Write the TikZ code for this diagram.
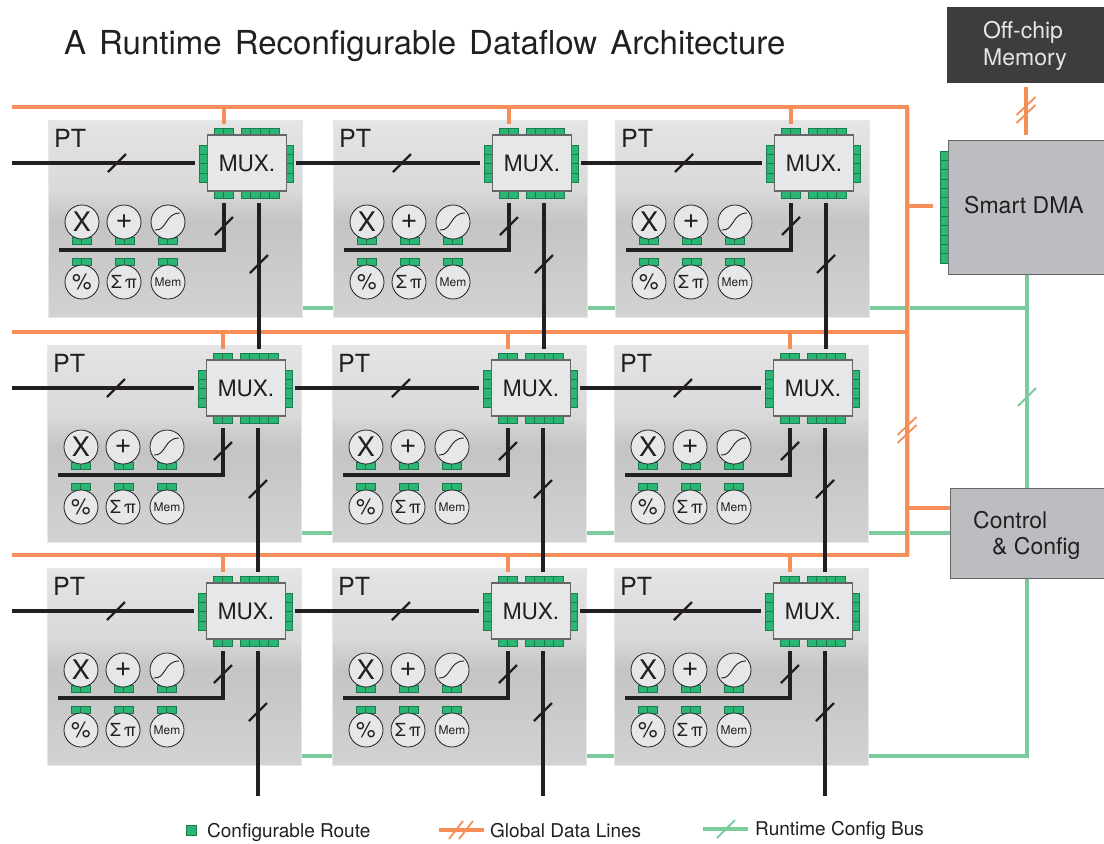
\documentclass[tikz,border=0pt]{standalone}
\usepackage{fontspec}
\setmainfont{TeX Gyre Heros}
\newfontfamily\titlefont[WordSpace=1.42]{TeX Gyre Heros}
\definecolor{ink}{HTML}{231F20}
\definecolor{orangeline}{HTML}{F58F57}
\definecolor{greenline}{HTML}{7CCB9D}
\definecolor{portfill}{HTML}{2BB673}
\definecolor{portedge}{HTML}{1A7A50}
\definecolor{lightfill}{HTML}{E6E7E8}
\definecolor{boxgray}{HTML}{BCBDC0}
\pgfdeclareverticalshading{panelshade}{100bp}{color(0bp)=(white!82!black);color(25bp)=(white!82.5!black);color(49bp)=(white!77!black);color(55.5bp)=(white!83!black);color(56.5bp)=(white!85!black);color(75bp)=(white!89.5!black);color(100bp)=(white!89.5!black)}
\newcommand\fs[1]{\fontsize{#1}{#1}\selectfont}
\tikzset{
  panelbox/.style={shading=panelshade,draw=lightfill,line width=1pt,minimum width=254pt,minimum height=197pt,inner sep=0pt,anchor=north west},
  muxbox/.style={draw=black!60,fill=lightfill,line width=1.3pt,minimum width=79pt,minimum height=56pt,inner sep=0pt,text=ink,font=\fs{22.6}},
  unit/.style={circle,draw=ink,fill=lightfill,line width=.8pt,minimum size=34pt,inner sep=0pt,text=ink},
  cell/.style={draw=portedge,fill=portfill,line width=.5pt},
  bus/.style={draw=ink,line width=3.3pt},
  tickmark/.style={draw=ink,line width=2.2pt},
  gline/.style={draw=orangeline,line width=3.2pt},
  gedge/.style={draw=orangeline!40,line width=1.2pt},
  gtick/.style={draw=orangeline,line width=1.8pt},
  cline/.style={draw=greenline,line width=3.2pt},
  ctick/.style={draw=greenline,line width=1.8pt},
  ptlabel/.style={font=\fs{25},text=ink,inner sep=0pt},
  legendtext/.style={font=\fs{19},text=ink,inner sep=0pt,anchor=west},
  sysbox/.style={fill=boxgray,draw=black!60,line width=1.2pt,inner sep=0pt,anchor=north west,text=ink}
}
% horizontal and vertical port strips
\newcommand\hports[3]{\foreach \i in {1,...,#3}{\path[cell] ({#1+(\i-1)*9.5},#2) rectangle ++(9.5,7.5);}}
\newcommand\vports[4][9.25]{\foreach \i in {1,...,#4}{\path[cell] (#2,{#3+(\i-1)*#1}) rectangle ++(8,#1);}}
\newcommand\ptpanel[3]{%
\begin{scope}[shift={(#2,#3)}]
  \node[panelbox] (#1) at (0,0) {};
  \node[ptlabel,anchor=west] (#1pt) at (6,18.5) {PT};
  \hports{166}{8}{2}\hports{193}{8}{4}
  \hports{166}{71}{2}\hports{193}{71}{4}
  \vports{151}{25}{4}\vports{237}{25}{4}
  \hports{24}{117}{2}\hports{67}{117}{2}\hports{110}{117}{2}
  \hports{24}{138}{2}\hports{67}{138}{2}\hports{110}{138}{2}
  \node[muxbox] (#1mux) at (199,43) {\raisebox{-1pt}{MUX.}};
  \node[unit,font=\fs{27}] (#1x) at (34,102) {\raisebox{-.5pt}{X}};
  \node[unit,font=\fs{29}] (#1add) at (76,102) {+};
  \node[unit] (#1sig) at (120,102) {};
  \draw[ink,line width=.9pt] ([shift={(-13,8)}]#1sig.center) .. controls ([shift={(-1,9)}]#1sig.center) and ([shift={(-3,-9)}]#1sig.center) .. ([shift={(12,-9)}]#1sig.center);
  \node[unit,font=\fs{22}] (#1pct) at (34,162) {\%};
  \node[unit,font=\fs{18}] (#1sum) at (76,162) {Σ\,π};
  \node[unit,font=\fs{12}] (#1mem) at (120,162) {Mem};
  \coordinate (#1in) at (147,43);
  \coordinate (#1out) at (248,43);
  \coordinate (#1stub) at (176,4);
  \coordinate (#1vin) at (211,4);
  \coordinate (#1vout) at (211,83);
  \coordinate (#1tap) at (176,83);
  \coordinate (#1busl) at (11,130);
  \coordinate (#1tin) at (69,43);
  \coordinate (#1ttap) at (176,106);
  \coordinate (#1tv) at (211,144);
  \coordinate (#1east) at (254,188);
\end{scope}}
\newcommand\tickat[2][tickmark]{\draw[#1] ([shift={(-9,9)}]#2) -- ([shift={(9,-9)}]#2);}
\newcommand\dtickat[2][gtick]{\draw[#1] ([shift={(-9.5,5)}]#2) -- ([shift={(9.5,-13)}]#2);\draw[#1] ([shift={(-9.5,13)}]#2) -- ([shift={(9.5,-5)}]#2);}
\begin{document}
\begin{tikzpicture}[x=1pt,y=-1pt]
\useasboundingbox (0,0) rectangle (1104,844);
\node[font=\fs{33}\titlefont,text=ink,inner sep=0pt,anchor=west] (title) at (64,46) {A Runtime Reconfigurable Dataflow Architecture};

% panels
\ptpanel{aa}{48}{120}\ptpanel{ab}{333}{120}\ptpanel{ac}{615}{120}
\ptpanel{ba}{47}{345}\ptpanel{bb}{332}{345}\ptpanel{bc}{614}{345}
\ptpanel{ca}{47}{568}\ptpanel{cb}{332}{568}\ptpanel{cc}{614}{568}

% system blocks
\node[sysbox,fill=black!76,draw=black!76,minimum width=157pt,minimum height=75pt] (mem) at (947,7) {};
\node[font=\fs{23},text=white!90!black,inner sep=0pt] (memA) at (1023,32) {Off-chip};
\node[font=\fs{23},text=white!90!black,inner sep=0pt] (memB) at (1025,60) {Memory};
\vports[9.33]{940}{151}{12}
\node[sysbox,minimum width=156pt,minimum height=134pt] (dma) at (948,140) {};
\node[font=\fs{23},inner sep=0pt,text=ink] (dmatext) at (1024,205) {Smart DMA};

% green runtime config bus
\coordinate (cbot) at (1027,756);
\draw[cline] (dma.south -| cbot) -- (cbot) -- (cc.east |- cbot);
\draw[cline] (aa.east |- aaeast) -- (ab.west |- aaeast);
\draw[cline] (ab.east |- abeast) -- (ac.west |- abeast);
\draw[cline] (ac.east |- aceast) -- (cbot |- aceast);
\draw[cline] (ba.east |- baeast) -- (bb.west |- baeast);
\draw[cline] (bb.east |- bbeast) -- (bc.west |- bbeast);
\draw[cline] (ca.east |- caeast) -- (cb.west |- caeast);
\draw[cline] (cb.east |- cbeast) -- (cc.west |- cbeast);
\coordinate (ctk) at (1027,397);
\tickat[ctick]{ctk}
\coordinate (ctrlw) at (950,533);
\draw[cline] (bc.east |- bceast) -- (ctrlw);

\node[sysbox,minimum width=154pt,minimum height=90pt] (ctrl) at (950,488) {};
\node[font=\fs{23},inner sep=0pt,text=ink,anchor=west] (ctrlA) at (973,520) {Control};
\node[font=\fs{23},inner sep=0pt,text=ink,anchor=west] (ctrlB) at (992,548) {\& Config};

% orange global data lines
\coordinate (gta) at (12,107);\coordinate (gtb) at (907,107);
\coordinate (gma) at (12,332);\coordinate (gmb) at (907,332);
\coordinate (gba) at (12,555);\coordinate (gbb) at (907,555);
\draw[gedge] ([xshift=2.2pt]gtb) -- ([xshift=2.2pt]gbb);
\draw[gline,line join=miter] (gta) -- (gtb) -- (gbb) -- (gba);
\draw[gline] (gma) -- (gmb);
\foreach \p in {aa,ab,ac}{\draw[gline] (\p stub |- gta) -- (\p stub);}
\foreach \p in {ba,bb,bc}{\draw[gline] (\p stub |- gma) -- (\p stub);}
\foreach \p in {ca,cb,cc}{\draw[gline] (\p stub |- gba) -- (\p stub);}
\coordinate (dmatap) at (933,206);
\draw[gline] (gtb |- dmatap) -- (dmatap);
\coordinate (ctrltap) at (950,508);
\draw[gline] (gtb |- ctrltap) -- (ctrltap);
\coordinate (gtk) at (907,430);
\dtickat{gtk}
\coordinate (mdtop) at (1026,87);
\coordinate (mdbot) at (1026,135);
\draw[gline] (mdtop) -- (mdbot);
\coordinate (mtk) at (1026,110);
\dtickat{mtk}

% black data paths
\foreach \p in {aa,ab,ac,ba,bb,bc,ca,cb,cc}{
  \draw[bus,line join=miter] (\p busl) -- (\p busl -| \p tap) -- (\p tap);
  \tickat{\p ttap}
  \tickat{\p tin}
  \tickat{\p tv}
}
\coordinate (lina) at (12,163);\coordinate (linb) at (12,388);\coordinate (linc) at (12,611);
\draw[bus] (lina) -- (aain);\draw[bus] (aaout) -- (abin);\draw[bus] (about) -- (acin);
\draw[bus] (linb) -- (bain);\draw[bus] (baout) -- (bbin);\draw[bus] (bbout) -- (bcin);
\draw[bus] (linc) -- (cain);\draw[bus] (caout) -- (cbin);\draw[bus] (cbout) -- (ccin);
\draw[bus] (aavout) -- (aavout |- bavin);
\draw[bus] (abvout) -- (abvout |- bbvin);
\draw[bus] (acvout) -- (acvout |- bcvin);
\draw[bus] (bavout) -- (cavin);
\draw[bus] (bbvout) -- (cbvin);
\draw[bus] (bcvout) -- (ccvin);
\coordinate (enda) at (258,796);\coordinate (endb) at (543,796);\coordinate (endc) at (825,796);
\draw[bus] (cavout) -- (enda);
\draw[bus] (cbvout) -- (endb);
\draw[bus] (ccvout) -- (endc);

% legend
\path[cell] (186,825) rectangle (196,835);
\node[legendtext] (lga) at (207,832) {Configurable Route};
\coordinate (lgoa) at (439,830);\coordinate (lgob) at (484,830);
\draw[gline] (lgoa) -- (lgob);
\coordinate (lgta) at (449,839);\coordinate (lgtb) at (463,821);\coordinate (lgtc) at (459,839);\coordinate (lgtd) at (473,821);
\draw[gtick] (lgta) -- (lgtb);\draw[gtick] (lgtc) -- (lgtd);
\node[legendtext] (lgb) at (490,831) {Global Data Lines};
\coordinate (lgga) at (703,829);\coordinate (lggb) at (748,829);\coordinate (lggt) at (726,829);
\draw[cline] (lgga) -- (lggb);
\tickat[ctick]{lggt}
\node[legendtext] (lgc) at (755,830) {Runtime Config Bus};
\end{tikzpicture}
\end{document}
